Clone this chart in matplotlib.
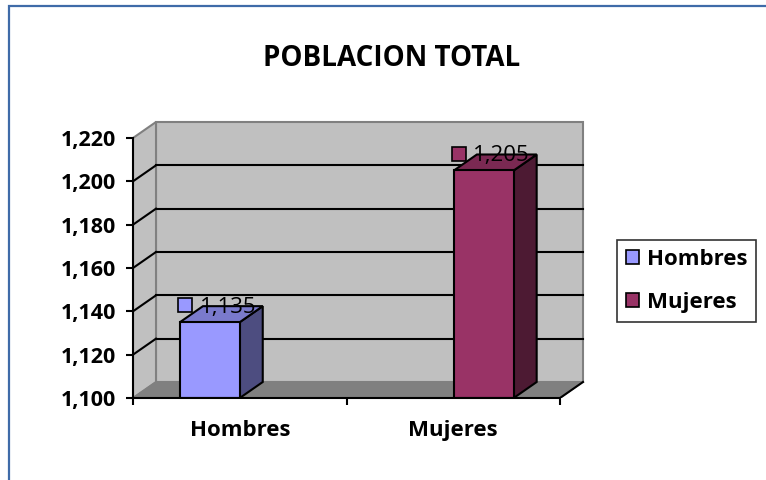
import matplotlib
matplotlib.use('Agg')
import matplotlib.pyplot as plt
from matplotlib.patches import Polygon, Rectangle, Patch
from matplotlib.ticker import FuncFormatter
from matplotlib.transforms import offset_copy

plt.rcParams['font.family'] = ['Open Sans', 'DejaVu Sans']

# datos
categorias = ['Hombres', 'Mujeres']
poblacion = [1135, 1205]
colores = ['#9999FF', '#993366']
colores_lado = ['#4D4D80', '#4D1A33']
colores_tope = ['#7A7ACC', '#7A2952']
y_ticks = [1100, 1120, 1140, 1160, 1180, 1200, 1220]

# geometria (pixeles de la imagen)
W, H = 766, 480
px_cat = 213.5      # px por categoria
px_val = 2.1667     # px por unidad
DX = 23 / px_cat    # profundidad 3D
DY = 16 / px_val
bar_left = [0.22, 1.503]
bar_w = 0.28
ymin, ymax = 1100, 1220

fig = plt.figure(figsize=(W / 100, H / 100), dpi=100)

# marco azul
fig.patches.append(Rectangle((9 / W, -0.1), 1.2, (H - 6) / H + 0.1, transform=fig.transFigure,
                             fill=False, edgecolor='#3F6BA8', linewidth=1.6))

ax_l, ax_r, ax_t, ax_b = 133, 595, 115, 398
ax = fig.add_axes([ax_l / W, (H - ax_b) / H, (ax_r - ax_l) / W, (ax_b - ax_t) / H])
ax.set_xlim(0, (ax_r - ax_l) / px_cat)
ax.set_ylim(ymin, ymin + (ax_b - ax_t) / px_val)
ax.patch.set_visible(False)

# paredes y piso
ax.add_patch(Rectangle((DX, ymin + DY), 2, ymax - ymin, facecolor='#C0C0C0',
                       edgecolor='#808080', lw=1.5, zorder=1))
ax.add_patch(Polygon([(0, ymin), (DX, ymin + DY), (DX, ymax + DY), (0, ymax)],
                     closed=True, facecolor='#C0C0C0', edgecolor='#808080', lw=1.5, zorder=1))
ax.add_patch(Polygon([(0, ymin), (2, ymin), (2 + DX, ymin + DY), (DX, ymin + DY)],
                     closed=True, facecolor='#808080', edgecolor='#808080', lw=1.0, zorder=2))
ax.plot([2, 2 + DX], [ymin, ymin + DY], color='black', lw=1.5, zorder=3)

for v in y_ticks[1:-1]:
    ax.plot([DX, 2 + DX], [v + DY, v + DY], color='black', lw=1.5, zorder=2)
    ax.plot([0, DX], [v, v + DY], color='black', lw=1.5, zorder=2)

# barras 3D
for i, v in enumerate(poblacion):
    l = bar_left[i]
    r = l + bar_w
    ax.bar(l, v - ymin, bottom=ymin, width=bar_w, align='edge', color=colores[i],
           edgecolor='black', lw=1.5, zorder=5)
    ax.add_patch(Polygon([(r, ymin), (r + DX, ymin + DY), (r + DX, v + DY), (r, v)],
                         closed=True, facecolor=colores_lado[i], edgecolor='black', lw=1.5, zorder=4))
    ax.add_patch(Polygon([(l, v), (r, v), (r + DX, v + DY), (l + DX, v + DY)],
                         closed=True, facecolor=colores_tope[i], edgecolor='black', lw=1.5, zorder=4))
    cx = l + bar_w / 2
    tr = offset_copy(ax.transData, fig=fig, x=-18, y=12.2, units='points')
    ax.plot(cx, v, 's', transform=tr, ms=9.5, mfc=colores[i], mec='black', mew=1.2, zorder=7)
    tr2 = offset_copy(ax.transData, fig=fig, x=-7.5, y=10.8, units='points')
    ax.text(cx, v, f'{v:,}', transform=tr2, ha='left', va='center', fontsize=16, zorder=8)

# ejes
for s in ['top', 'right']:
    ax.spines[s].set_visible(False)
ax.spines['left'].set_bounds(ymin, ymax)
ax.spines['bottom'].set_bounds(0, 2)
ax.spines['left'].set_linewidth(1.5)
ax.spines['bottom'].set_linewidth(1.5)
ax.spines['left'].set_zorder(6)
ax.spines['bottom'].set_zorder(6)
ax.set_yticks(y_ticks)
ax.yaxis.set_major_formatter(FuncFormatter(lambda v, p: f'{v:,.0f}'))
ax.tick_params(axis='y', direction='out', length=5, width=1.5, pad=7, labelsize=15.5)
for t in ax.get_yticklabels():
    t.set_fontweight('bold')
ax.set_xticks([0, 1, 2])
ax.set_xticklabels([])
ax.set_xticks([0.5, 1.5], minor=True)
ax.set_xticklabels(categorias, minor=True, fontsize=16, fontweight='bold')
ax.tick_params(axis='x', which='major', direction='out', length=5, width=1.5)
ax.tick_params(axis='x', which='minor', length=0, pad=16)

fig.text(392 / W, 1 - 58 / H, 'POBLACION TOTAL', ha='center', va='center',
         fontsize=20, fontweight='bold')

handles = [Patch(facecolor=c, edgecolor='black', lw=1.2) for c in colores]
leg = fig.legend(handles, categorias, loc='center left', bbox_to_anchor=(617 / W, 1 - 281 / H),
                 frameon=True, fancybox=False, edgecolor='black',
                 prop={'weight': 'bold', 'size': 16}, handlelength=0.6, handleheight=0.6,
                 handletextpad=0.35, borderpad=0.4, labelspacing=1.0, borderaxespad=0)
leg.get_frame().set_linewidth(1.2)

fig.savefig('out.png', dpi=100, facecolor='white')
